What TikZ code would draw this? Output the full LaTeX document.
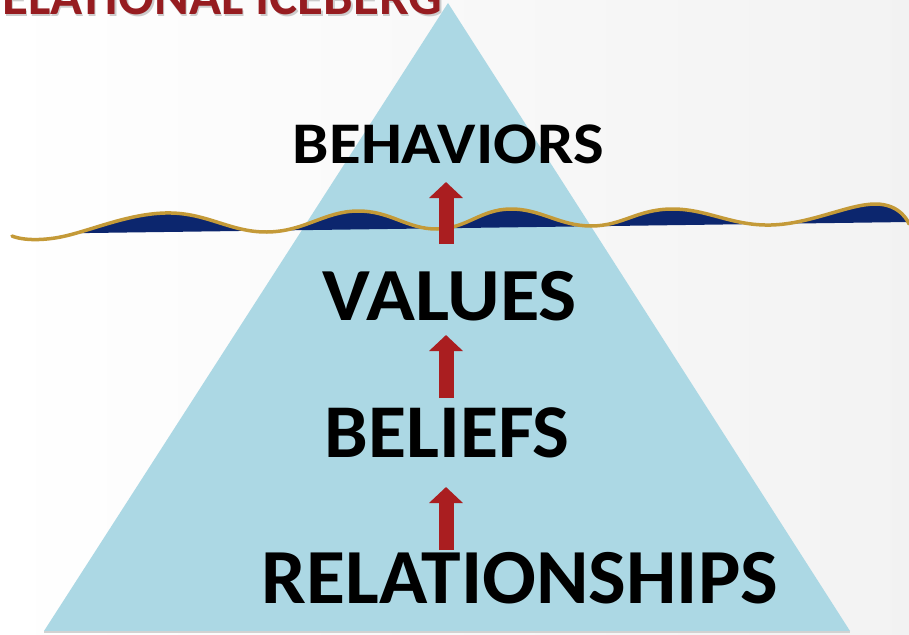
\documentclass[tikz,border=0pt]{standalone}
\usepackage{fontspec}
\setmainfont{Carlito}
\usepackage{graphicx}
\usetikzlibrary{arrows.meta}
\definecolor{ice}{RGB}{172,216,228}
\definecolor{navy}{RGB}{12,38,110}
\definecolor{gold}{RGB}{196,154,56}
\definecolor{arrowred}{RGB}{170,30,32}
\definecolor{titlered}{RGB}{150,28,32}
\newcommand{\lbl}[3]{\resizebox{#1}{\height}{\fontsize{#2}{#2}\selectfont\bfseries #3}}
\begin{document}
\begin{tikzpicture}[x=1pt,y=-1pt,
  lbltext/.style={inner sep=0pt, anchor=base, text=black},
  uparrow/.style={arrowred, line width=15pt, -{Triangle[width=33pt,length=16pt]}}]
\useasboundingbox (0,0) rectangle (909,634);
\clip (0,0) rectangle (909,634);
\shade[left color=white, right color=gray!10] (0,0) rectangle (909,634);
% iceberg
\fill[ice] (448,3) -- (850,631) -- (44,631) -- cycle;
\draw[gray!35, line width=2pt] (44,632) -- (850,632);
% title
\node[anchor=base west, inner sep=0pt, text=gray!40] at (3.5,16.5) {\lbl{440pt}{53pt}{ELATIONAL ICEBERG}};
\node[anchor=base west, inner sep=0pt, text=titlered] (title) at (2,15) {\lbl{440pt}{53pt}{ELATIONAL ICEBERG}};
% water
\begin{scope}
  \clip (0,-10) -- (909,-10) -- (909,222) -- (0,234.2) -- cycle;
  \fill[navy] plot[smooth, tension=0.7] coordinates {(12,236)(55,238)(165,213)(267,232)(357,211)(437,229)(510,209)(591,226)(672,209)(771,225)(875,204)(909,224)} -- (909,300) -- (0,300) -- cycle;
\end{scope}
\draw[gold, line width=3.5pt, line cap=round] plot[smooth, tension=0.7] coordinates {(12,236)(55,238)(165,213)(267,232)(357,211)(437,229)(510,209)(591,226)(672,209)(771,225)(875,204)(909,224)};
% arrows
\coordinate (a1b) at (446,244);
\coordinate (a1t) at (446,182);
\coordinate (a2b) at (446,398);
\coordinate (a2t) at (446,335);
\coordinate (a3b) at (446,550);
\coordinate (a3t) at (446,487);
\draw[uparrow] (a1b) -- (a1t);
\draw[uparrow] (a2b) -- (a2t);
\draw[uparrow] (a3b) -- (a3t);
% labels
\node[lbltext] (beh) at (448.5,163) {\lbl{311pt}{59pt}{BEHAVIORS}};
\node[lbltext] (val) at (450,320) {\lbl{254pt}{75pt}{VALUES}};
\node[lbltext] (bel) at (447,457) {\lbl{245pt}{76pt}{BELIEFS}};
\node[lbltext] (rel) at (520,603) {\lbl{516pt}{78pt}{RELATIONSHIPS}};
\end{tikzpicture}
\end{document}
